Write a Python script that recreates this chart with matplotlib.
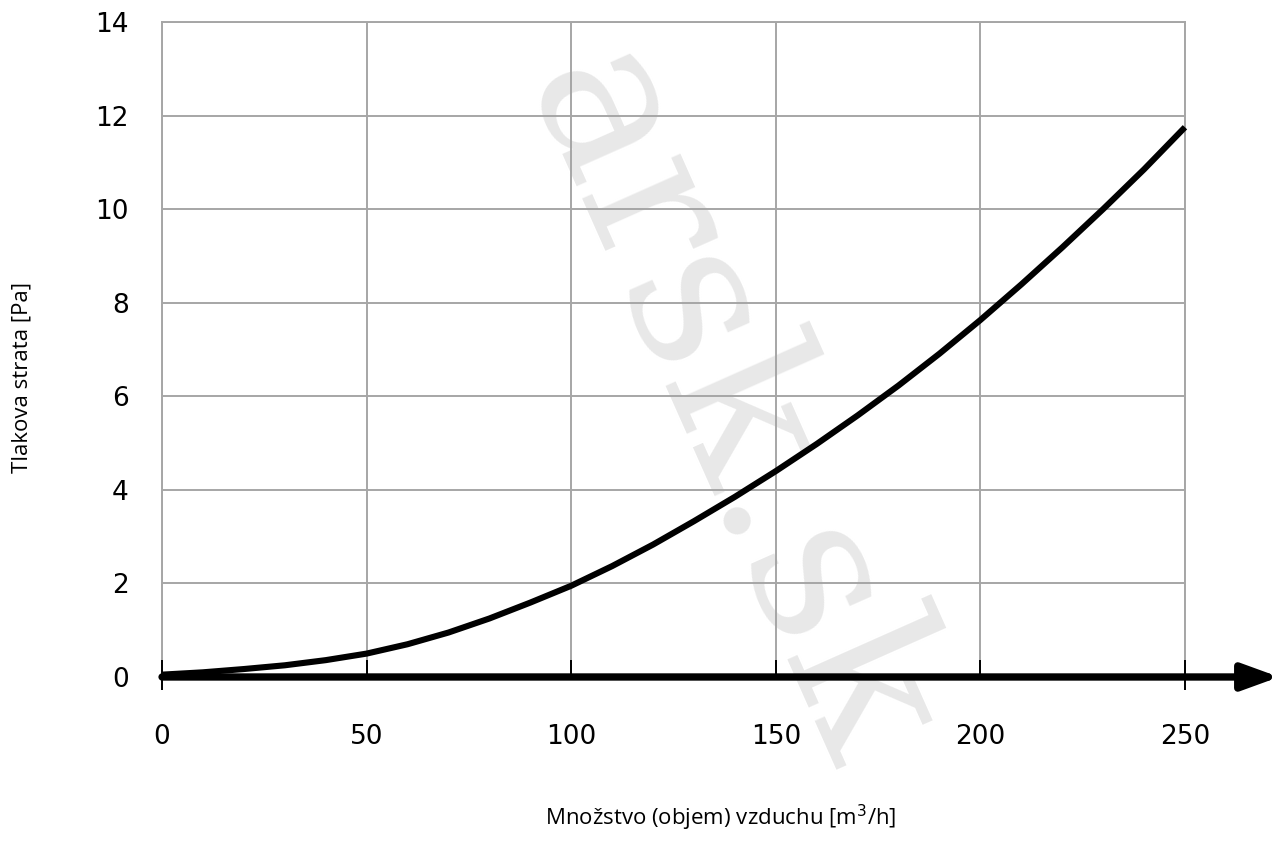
import numpy as np
import matplotlib.pyplot as plt

# values
flow = [0, 10, 20, 30, 40, 50, 60, 70, 80, 90, 100, 110, 120, 130, 140, 150,
        160, 170, 180, 190, 200, 210, 220, 230, 240, 250]
pressure = [0.05, 0.10, 0.17, 0.25, 0.36, 0.50, 0.70, 0.95, 1.25, 1.59, 1.95,
            2.37, 2.83, 3.33, 3.85, 4.40, 4.98, 5.59, 6.23, 6.91, 7.63, 8.39,
            9.18, 10.00, 10.85, 11.75]
x_ticks = [0, 50, 100, 150, 200, 250]
y_ticks = [0, 2, 4, 6, 8, 10, 12, 14]

fig = plt.figure(figsize=(12.82, 8.55), dpi=100)
ax = fig.add_axes([0.1264, 0.2082, 0.7979, 0.7661])

grid_col = '#a6a6a6'
ax.set_xlim(0, 250)
ax.set_ylim(0, 14)
ax.set_xticks(x_ticks)
ax.set_yticks(y_ticks)
ax.set_axisbelow(False)
ax.grid(True, color=grid_col, lw=1.4, zorder=1)
for s in ax.spines.values():
    s.set_color(grid_col)
    s.set_linewidth(1.4)
ax.spines['bottom'].set_visible(False)
ax.tick_params(length=0, labelsize=19, colors='black')
ax.tick_params(axis='y', pad=24)
ax.tick_params(axis='x', pad=34)

# watermark (under the grid)
ax.text(0.568, 0.522, 'arsk.sk', transform=fig.transFigure, fontsize=150,
        family='DejaVu Serif', color='#e8e8e8', rotation=-66,
        ha='center', va='center', zorder=0.5, clip_on=False)

ax.plot(flow, pressure, color='black', lw=4.4, zorder=4, clip_on=False,
        solid_capstyle='butt', solid_joinstyle='round')

# x axis arrow
ax.annotate('', xy=(273, 0), xytext=(0, 0), xycoords='data',
            annotation_clip=False,
            arrowprops=dict(arrowstyle='-|>,head_length=2.2,head_width=0.8',
                            color='black', lw=5.3, shrinkA=0, shrinkB=0),
            zorder=5)
# small black ticks on the axis line
ax.vlines(x_ticks[1:-1], 0, 0.36, color='black', lw=1.4, clip_on=False, zorder=6)
ax.vlines([x_ticks[0], x_ticks[-1]], -0.28, 0.36, color='black', lw=1.4,
          clip_on=False, zorder=6)

fig.text(0.017, 0.558, 'Tlakova strata [Pa]', rotation=90, fontsize=16,
         family='Open Sans', ha='center', va='center')
fig.text(0.562, 0.043, 'Množstvo (objem) vzduchu [m$^3$/h]', fontsize=16,
         family='Open Sans', ha='center', va='center')

fig.savefig('out.png', dpi=100)
